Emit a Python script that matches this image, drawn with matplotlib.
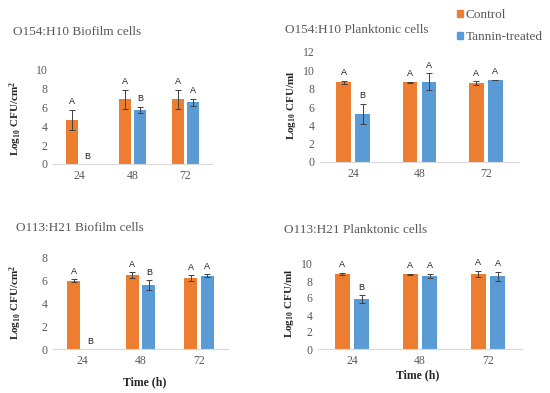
import numpy as np
import matplotlib
matplotlib.use("Agg")
import matplotlib.pyplot as plt
from matplotlib.patches import Patch

times = ["24", "48", "72"]

# O154:H10 biofilm
o154_bio_ctrl = [4.7, 6.9, 6.88]
o154_bio_ctrl_err = [1.05, 1.0, 1.0]
o154_bio_tan = [0.0, 5.75, 6.56]
o154_bio_tan_err = [0.0, 0.35, 0.38]
o154_bio_letters = [("A", "B"), ("A", "B"), ("A", "A")]

# O154:H10 planktonic
o154_pl_ctrl = [8.7, 8.7, 8.6]
o154_pl_ctrl_err = [0.15, 0.05, 0.2]
o154_pl_tan = [5.22, 8.77, 8.95]
o154_pl_tan_err = [1.12, 0.9, 0.05]
o154_pl_letters = [("A", "B"), ("A", "A"), ("A", "A")]

# O113:H21 biofilm
o113_bio_ctrl = [6.0, 6.5, 6.25]
o113_bio_ctrl_err = [0.15, 0.25, 0.25]
o113_bio_tan = [0.0, 5.6, 6.45]
o113_bio_tan_err = [0.0, 0.45, 0.1]
o113_bio_letters = [("A", "B"), ("A", "B"), ("A", "A")]

# O113:H21 planktonic
o113_pl_ctrl = [8.85, 8.8, 8.85]
o113_pl_ctrl_err = [0.1, 0.05, 0.33]
o113_pl_tan = [5.85, 8.6, 8.55]
o113_pl_tan_err = [0.45, 0.23, 0.55]
o113_pl_letters = [("A", "B"), ("A", "A"), ("A", "A")]

ORANGE = "#ED7D31"
BLUE = "#5B9BD5"
GREY = "#595959"
SERIF = ["Liberation Serif", "DejaVu Serif"]
SANS = ["Liberation Sans", "DejaVu Sans"]

plt.rcParams["mathtext.fontset"] = "custom"
plt.rcParams["mathtext.rm"] = "Liberation Serif:bold"
plt.rcParams["mathtext.it"] = "Liberation Serif:bold"
plt.rcParams["mathtext.bf"] = "Liberation Serif:bold"

fig = plt.figure(figsize=(5.5, 3.93), dpi=100)


def panel(rect, ctrl, ctrl_err, tan, tan_err, letters, ymax, ystep, bw=0.22, off=0.142):
    ax = fig.add_axes(rect)
    x = np.arange(len(times))
    ax.bar(x - off, ctrl, bw, color=ORANGE, zorder=2)
    ax.bar(x + off, tan, bw, color=BLUE, zorder=2)
    for xs, vals, errs in ((x - off, ctrl, ctrl_err), (x + off, tan, tan_err)):
        for xi, v, e in zip(xs, vals, errs):
            if v > 0:
                ax.errorbar(xi, v, yerr=e, color="#404040", lw=0.7, capsize=2,
                            capthick=0.7, zorder=3)
    for i, (lc, lt) in enumerate(letters):
        for xi, v, e, lab in ((x[i] - off, ctrl[i], ctrl_err[i], lc),
                              (x[i] + off, tan[i], tan_err[i], lt)):
            ax.annotate(lab, (xi, v + e), xytext=(0, 2.5), textcoords="offset points",
                        ha="center", va="bottom", fontsize=6.5, family=SANS, color="#202020")
    ax.set_xlim(-0.5, len(times) - 0.5)
    ax.set_ylim(0, ymax)
    ax.set_yticks(np.arange(0, ymax + 0.1, ystep))
    ax.set_xticks(x)
    ax.set_xticklabels(times)
    for s in ("top", "right", "left"):
        ax.spines[s].set_visible(False)
    ax.spines["bottom"].set_color("#D9D9D9")
    ax.spines["bottom"].set_linewidth(0.8)
    ax.tick_params(length=0, labelsize=8.5, labelcolor=GREY, pad=4)
    for t in ax.get_xticklabels() + ax.get_yticklabels():
        t.set_family(SERIF)
    return ax


panel([53 / 550, 1 - 164 / 393, 159 / 550, 94 / 393], o154_bio_ctrl, o154_bio_ctrl_err,
      o154_bio_tan, o154_bio_tan_err, o154_bio_letters, 10, 2)
panel([320 / 550, 1 - 162 / 393, 199 / 550, 110 / 393], o154_pl_ctrl, o154_pl_ctrl_err,
      o154_pl_tan, o154_pl_tan_err, o154_pl_letters, 12, 2)
panel([53 / 550, 1 - 349 / 393, 175 / 550, 91 / 393], o113_bio_ctrl, o113_bio_ctrl_err,
      o113_bio_tan, o113_bio_tan_err, o113_bio_letters, 8, 2)
panel([318 / 550, 1 - 349 / 393, 204 / 550, 85 / 393], o113_pl_ctrl, o113_pl_ctrl_err,
      o113_pl_tan, o113_pl_tan_err, o113_pl_letters, 10, 2)


def px(xp, yp):
    return xp / 550, 1 - yp / 393


title_kw = dict(fontsize=9.5, family=SERIF, color=GREY, va="center", ha="left")
fig.text(*px(13, 32), "O154:H10 Biofilm cells", **title_kw)
fig.text(*px(285, 30), "O154:H10 Planktonic cells", **title_kw)
fig.text(*px(16, 228), "O113:H21 Biofilm cells", **title_kw)
fig.text(*px(284, 230), "O113:H21 Planktonic cells", **title_kw)

ylab_kw = dict(fontsize=8, family=SERIF, fontweight="bold", color="#262626",
               rotation=90, ha="center", va="center")
fig.text(*px(16, 118), r"Log$_{10}$ CFU/cm$^{2}$", **ylab_kw)
fig.text(*px(16, 302), r"Log$_{10}$ CFU/cm$^{2}$", **ylab_kw)
fig.text(*px(291, 105), r"Log$_{10}$ CFU/ml", **ylab_kw)
fig.text(*px(290, 303), r"Log$_{10}$ CFU/ml", **ylab_kw)

xlab_kw = dict(fontsize=8.5, family=SERIF, fontweight="bold", color="#262626",
               ha="center", va="center")
fig.text(*px(145, 382), "Time (h)", **xlab_kw)
fig.text(*px(418, 375), "Time (h)", **xlab_kw)

handles = [Patch(color=ORANGE, label="Control"), Patch(color=BLUE, label="Tannin-treated")]
fig.legend(handles=handles, loc="upper left", bbox_to_anchor=(448 / 550, 1.0), frameon=False,
           prop={"family": SERIF, "size": 9.5}, labelcolor=GREY, handlelength=0.45,
           handleheight=0.45, handletextpad=0.2, labelspacing=0.75, borderaxespad=0.3)

fig.savefig("out.png", dpi=100)
